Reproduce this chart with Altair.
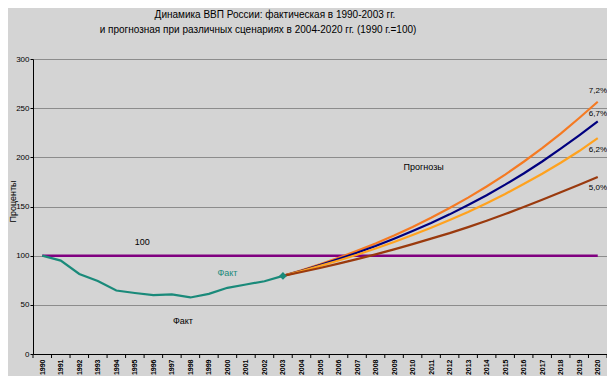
import altair as alt
import pandas as pd

years_fact = list(range(1990, 2004))
fact = [100, 95.0, 81.4, 74.3, 64.6, 62.0, 59.8, 60.6, 57.5, 61.2, 67.3, 70.7, 74.0, 79.4]

years_fc = list(range(2003, 2021))
fc_72 = [79.4, 85.1, 91.2, 97.8, 104.9, 112.4, 120.5, 129.2, 138.5, 148.5, 159.0, 170.3, 182.4, 195.5, 209.4, 224.2, 240.0, 256.5]
fc_67 = [79.4, 84.7, 90.4, 96.5, 102.9, 109.8, 117.2, 125.0, 133.2, 142.0, 151.5, 161.5, 172.2, 183.6, 195.8, 208.8, 222.4, 236.5]
fc_62 = [79.4, 84.3, 89.6, 95.1, 101.0, 107.3, 113.9, 121.0, 128.3, 136.2, 144.5, 153.4, 162.8, 172.8, 183.3, 194.5, 206.4, 219.5]
fc_50 = [79.4, 83.4, 87.5, 91.9, 96.5, 101.3, 106.4, 111.7, 117.3, 122.9, 129.0, 135.5, 142.3, 149.4, 156.8, 164.4, 172.2, 180.0]

all_years = list(range(1990, 2021))
base_line = [100] * len(all_years)

series_names = ["7,2%", "6,7%", "6,2%", "5,0%"]
series_colors = ["#F57A22", "#00007F", "#FFA21E", "#9A3A0E"]

FONT = "Liberation Sans"
BG = "#D4D4D4"

rows = []
for name, vals in zip(series_names, [fc_72, fc_67, fc_62, fc_50]):
    for y, v in zip(years_fc, vals):
        rows.append({"year": y, "value": v, "series": name})
df_fc = pd.DataFrame(rows)
df_fact = pd.DataFrame({"year": years_fact, "value": fact})
df_base = pd.DataFrame({"year": all_years, "value": base_line})
df_ticks = pd.DataFrame({"year": [y - 0.5 for y in all_years] + [2020.5]})
df_last = df_fact.tail(1)

xscale = alt.Scale(domain=[1989.5, 2020.5], nice=False, zero=False)
yscale = alt.Scale(domain=[0, 300], nice=False)

x_axis = alt.Axis(values=all_years, labelAngle=-90, format="d", tickSize=0,
                  labelPadding=5, grid=False, title=None, labelFontSize=7,
                  labelFont=FONT, labelColor="#000", domainColor="#000",
                  labelFontWeight="bold", labelOverlap=False, labelBound=False,
                  labelFlush=False, tickCount=31)
y_axis = alt.Axis(values=[0, 50, 100, 150, 200, 250, 300], grid=True,
                  gridColor="#8C8C8C", gridWidth=1, tickSize=3, tickColor="#000",
                  domainColor="#000", labelFontSize=8, labelFont=FONT,
                  labelColor="#000", labelPadding=1,
                  title="Проценты", titleFont=FONT, titleFontSize=9,
                  titleFontWeight="normal", titleColor="#000",
                  titleX=-21, titleY=142, titleAngle=270,
                  titleAlign="center", titleBaseline="middle")

def X():
    return alt.X("year:Q", scale=xscale, axis=x_axis)

def Y():
    return alt.Y("value:Q", scale=yscale, axis=y_axis)

base = alt.Chart(df_base).mark_line(color="#800080", strokeWidth=2.5).encode(x=X(), y=Y())

ticks = alt.Chart(df_ticks).mark_rule(color="#000", strokeWidth=1).encode(
    x=X(), y=alt.value(295), y2=alt.value(299))

fact_line = alt.Chart(df_fact).mark_line(color="#1A8A7A", strokeWidth=2.2).encode(x=X(), y=Y())

fc_lines = alt.Chart(df_fc).mark_line(strokeWidth=2.2).encode(
    x=X(), y=Y(),
    color=alt.Color("series:N", scale=alt.Scale(domain=series_names, range=series_colors),
                    legend=None),
    detail="series:N")

marker = alt.Chart(df_last).mark_point(shape="diamond", filled=True, size=60,
                                       color="#1A8A7A", opacity=1).encode(x=X(), y=Y())

def label(txt, xv, yv, color="#000", size=9):
    return alt.Chart(pd.DataFrame({"t": [txt]})).mark_text(
        font=FONT, fontSize=size, color=color, align="center", baseline="middle").encode(
        x=alt.X(datum=xv, scale=xscale, axis=x_axis),
        y=alt.Y(datum=yv, scale=yscale, axis=y_axis), text="t:N")

def rlabel(txt, yv):
    return alt.Chart(pd.DataFrame({"t": [txt]})).mark_text(
        font=FONT, fontSize=8, color="#000", align="right", baseline="middle").encode(
        x=alt.value(574), y=alt.Y(datum=yv, scale=yscale, axis=y_axis), text="t:N")

labels = [
    label("100", 1995.4, 114),
    label("Факт", 2000.0, 82, color="#1A8A7A"),
    label("Факт", 1997.6, 33.5),
    label("Прогнозы", 2010.6, 190),
    rlabel("7,2%", 267.5),
    rlabel("6,7%", 244),
    rlabel("6,2%", 207),
    rlabel("5,0%", 169),
]

title1 = alt.Chart(pd.DataFrame({"t": ["Динамика ВВП России: фактическая в 1990-2003 гг."]})).mark_text(
    font=FONT, fontSize=10, color="#000", align="center", baseline="middle").encode(
    x=alt.value(242), y=alt.value(-44), text="t:N")
title2 = alt.Chart(pd.DataFrame({"t": ["и прогнозная при различных сценариях в 2004-2020 гг. (1990 г.=100)"]})).mark_text(
    font=FONT, fontSize=10, color="#000", align="center", baseline="middle").encode(
    x=alt.value(225), y=alt.value(-29), text="t:N")

chart = alt.layer(base, ticks, fact_line, fc_lines, marker, *labels, title1, title2).properties(
    width=574, height=295,
    autosize=alt.AutoSizeParams(type="none"),
    padding={"left": 25, "top": 51, "right": 0, "bottom": 22},
    background=BG,
).configure_view(stroke=None, fill=BG)

chart.save("out.html", embed_options={"renderer": "svg", "actions": False})
